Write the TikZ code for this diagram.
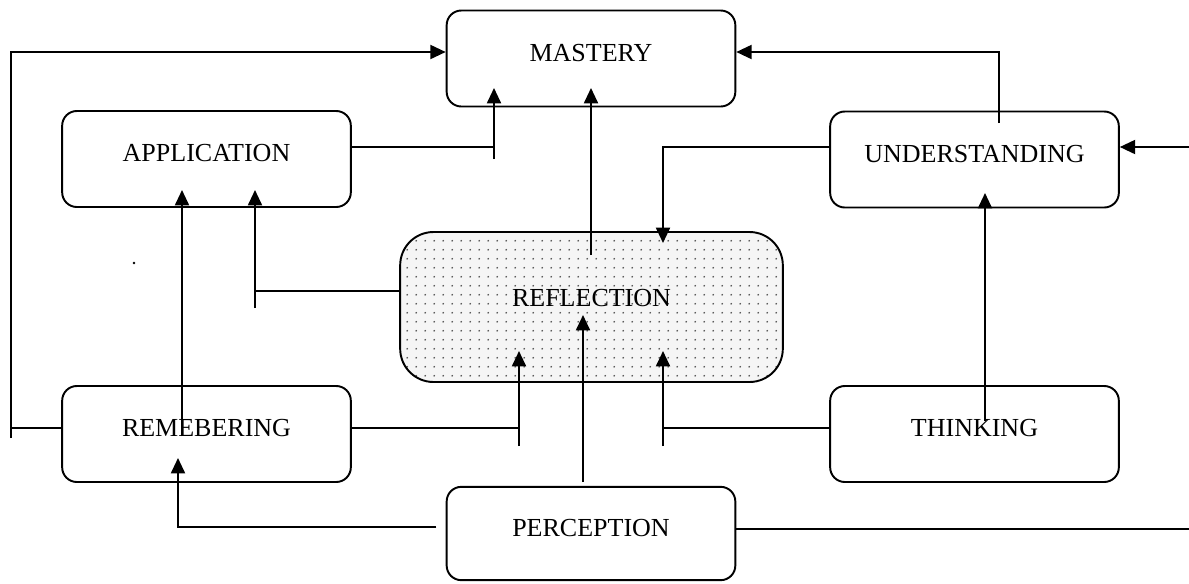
\documentclass[tikz,border=0pt]{standalone}
\usepackage{fontspec}
\setmainfont{Liberation Serif}
\usetikzlibrary{arrows.meta,patterns.meta}
\newcommand\stagefont{\fontsize{19.5}{22}\selectfont}

\tikzset{
  stage/.style={draw, line width=1.45pt, rounded corners=11pt, inner sep=0pt,
    minimum width=216.5pt, minimum height=72pt, text height=13pt, text depth=9pt,
    font=\stagefont},
  hub/.style={stage, rounded corners=25pt, minimum width=287pt, minimum height=112.5pt,
    text depth=13.5pt, preaction={fill=gray!8},
    pattern={Dots[distance=6.5pt,radius=0.7pt]}, pattern color=black!70},
  link/.style={line width=1.45pt},
  arr/.style={link, -{Triangle[length=11.5pt,width=10.5pt]}},
}

\begin{document}
\begin{tikzpicture}[x=0.75pt, y=-0.75pt]
  \useasboundingbox (0,0) rectangle (1189,583);

  % stages
  \node[stage] (mast) at (591,58.5) {MASTERY};
  \node[stage] (app) at (206.5,159) {APPLICATION};
  \node[stage] (und) at (974.5,159.5) {UNDERSTANDING};
  \node[hub] (refl) at (591.5,307) {REFLECTION};
  \node[stage] (rem) at (206.5,434) {REMEBERING};
  \node[stage] (think) at (974.5,434) {THINKING};
  \node[stage, minimum height=70pt] (perc) at (591,533.5) {PERCEPTION};

  % bends, ticks and arrow ends
  \coordinate (lpM) at (11,428);
  \coordinate (lpB) at (11,438);
  \coordinate (lpT) at (11,52);
  \coordinate (apM) at (494,147);
  \coordinate (apB) at (494,159);
  \coordinate (apA) at (494,88);
  \coordinate (rfS) at (591,255);
  \coordinate (rfA) at (591,88);
  \coordinate (unS) at (999,123);
  \coordinate (unT) at (999,52);
  \coordinate (rIn) at (1189,147);
  \coordinate (udM) at (663,147);
  \coordinate (udA) at (663,243);
  \coordinate (raM) at (255,291);
  \coordinate (raB) at (255,308);
  \coordinate (raA) at (255,190);
  \coordinate (rmS) at (182,436);
  \coordinate (rmA) at (182,190);
  \coordinate (rrM) at (519,428);
  \coordinate (rrB) at (519,446);
  \coordinate (rrA) at (519,351);
  \coordinate (prS) at (583,482);
  \coordinate (prA) at (583,315);
  \coordinate (trM) at (663,428);
  \coordinate (trB) at (663,446);
  \coordinate (trA) at (663,351);
  \coordinate (tuS) at (985,421);
  \coordinate (tuA) at (985,193);
  \coordinate (pmM) at (178,527);
  \coordinate (pmA) at (178,458);
  \coordinate (rOut) at (1189,529);

  % into mastery
  \draw[link] (rem.west |- lpM) -- (lpM);
  \draw[arr] (lpB) -- (lpT) -- (mast.west |- lpT);
  \draw[link] (app.east |- apM) -- (apM);
  \draw[arr] (apB) -- (apA);
  \draw[arr] (rfS) -- (rfA);
  \draw[arr] (unS) -- (unT) -- (mast.east |- unT);

  % understanding
  \draw[arr] (rIn) -- (und.east |- rIn);
  \draw[arr] (und.west |- udM) -- (udM) -- (udA);
  \draw[arr] (tuS) -- (tuA);

  % application
  \draw[link] (refl.west |- raM) -- (raM);
  \draw[arr] (raB) -- (raA);
  \draw[arr] (rmS) -- (rmA);

  % into reflection
  \draw[link] (rem.east |- rrM) -- (rrM);
  \draw[arr] (rrB) -- (rrA);
  \draw[arr] (prS) -- (prA);
  \draw[link] (think.west |- trM) -- (trM);
  \draw[arr] (trB) -- (trA);

  % perception
  \draw[arr] ([xshift=-7pt]perc.west |- pmM) -- (pmM) -- (pmA);
  \draw[link] (perc.east |- rOut) -- (rOut);

  \fill (134,263) circle (1pt);
\end{tikzpicture}
\end{document}
